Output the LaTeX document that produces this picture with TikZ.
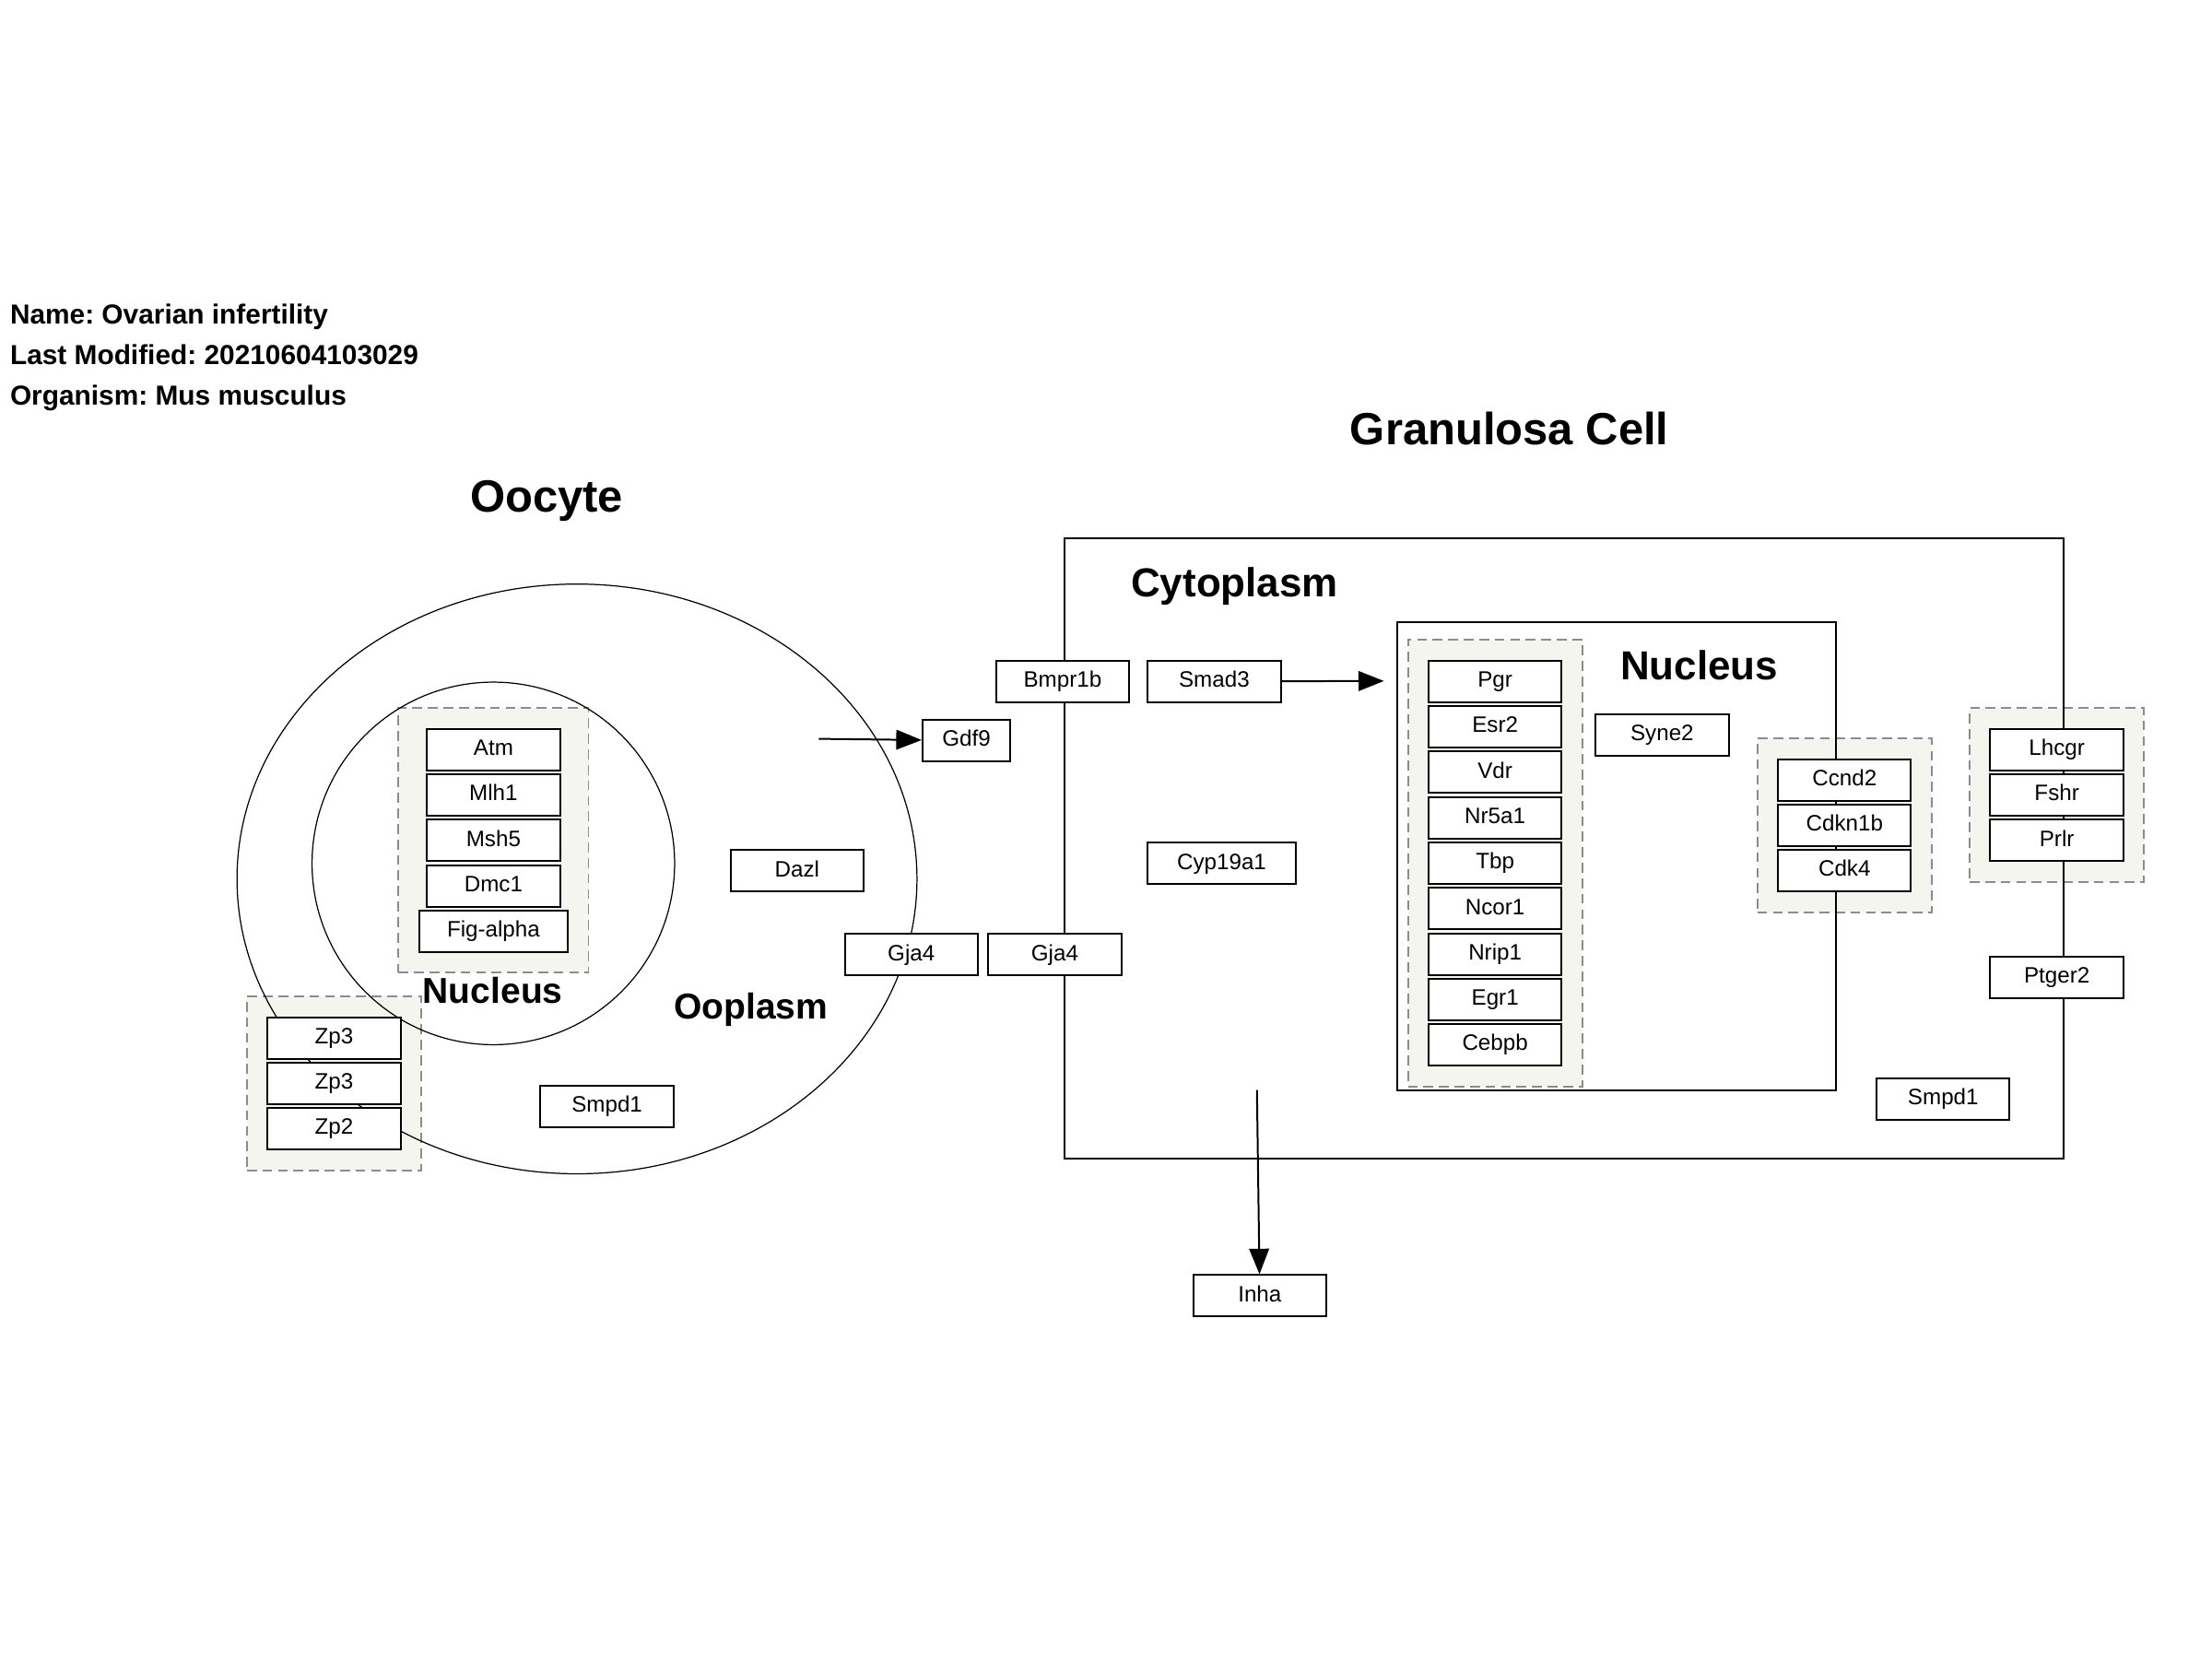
\documentclass[tikz,border=0pt]{standalone}
\usepackage{fontspec}
\setmainfont{Liberation Sans}
\usetikzlibrary{arrows.meta,positioning,fit,backgrounds}
\definecolor{groupgray}{HTML}{8C8C8C}
\definecolor{groupfill}{HTML}{F5F5EF}
\frenchspacing

\begin{document}
\begin{tikzpicture}[x=1pt, y=-1pt,
        gene/.style={draw, line width=1.3pt, fill=white, minimum width=94.3pt, minimum height=29.4pt,
            inner sep=0pt, text height=11.4pt, text depth=3.2pt, font=\fontsize{15.8}{18}\selectfont}, % one gene product
        complex/.style={draw=groupgray, dash pattern=on 7pt off 4pt, line width=1.3pt, fill=groupfill, inner sep=14pt}, % dashed group
        compartment/.style={draw, line width=1.3pt},
        membrane/.style={draw, line width=0.8pt},
        link/.style={-{Triangle[length=18pt,width=14pt]}, line width=1.3pt},
        infotext/.style={anchor=base west, inner sep=0pt, font=\bfseries\fontsize{19.5}{22}\selectfont},
        bigtitle/.style={anchor=base, inner sep=0pt, font=\bfseries\fontsize{32}{36}\selectfont},
        celltitle/.style={anchor=base west, inner sep=0pt, font=\bfseries\fontsize{28.7}{32}\selectfont},
    ]
    \useasboundingbox (0,0) rectangle (1568,1176);

    % info
    \node[infotext] (name) at (7,229.5) {Name: Ovarian infertility};
    \node[infotext] (modified) at (7,258.5) {Last Modified: 20210604103029};
    \node[infotext] (organism) at (7,287) {Organism: Mus musculus};

    % titles
    \node[bigtitle] (oocyte) at (387.5,363) {Oocyte};
    \node[bigtitle] (granulosa) at (1070,315) {Granulosa Cell};
    \node[celltitle] (cytoplasm) at (801.6,422.8) {Cytoplasm};
    \node[celltitle] (grnucleus) at (1148.5,482) {Nucleus};
    \node[celltitle, font=\bfseries\fontsize{25.5}{28}\selectfont] (ocnucleus) at (299.5,711.4) {Nucleus};
    \node[celltitle, font=\bfseries\fontsize{25.5}{28}\selectfont] (ooplasm) at (477.5,722.5) {Ooplasm};

    % oocyte
    \node[gene] (atm) at (349.8,531.3) {Atm};
    \node[gene, below=1.5pt of atm] (mlh1) {Mlh1};
    \node[gene, below=1.5pt of mlh1] (msh5) {Msh5};
    \node[gene, below=1.5pt of msh5] (dmc1) {Dmc1};
    \node[gene, below=1.5pt of dmc1, minimum width=105.4pt] (figa) {Fig-alpha};
    \node[gene] (zp3a) at (236.8,735.7) {Zp3};
    \node[gene, below=1.5pt of zp3a] (zp3b) {Zp3};
    \node[gene, below=1.5pt of zp3b] (zp2) {Zp2};
    \node[gene] (dazl) at (565,617.3) {Dazl};
    \node[gene] (smpdoc) at (430.3,784.2) {Smpd1};
    \node[gene] (gjaoc) at (646,676.8) {Gja4};
    \node[gene, minimum width=62.3pt] (gdf9) at (685.1,524.9) {Gdf9};

    % granulosa cell
    \node[gene] (bmpr) at (753.2,483) {Bmpr1b};
    \node[gene] (smad3) at (860.7,483) {Smad3};
    \node[gene, minimum width=105.3pt] (cyp) at (866,612) {Cyp19a1};
    \node[gene] (gjagr) at (747.7,676.8) {Gja4};
    \node[gene] (pgr) at (1059.8,483) {Pgr};
    \node[gene, below=1.5pt of pgr] (esr2) {Esr2};
    \node[gene, below=1.5pt of esr2] (vdr) {Vdr};
    \node[gene, below=1.5pt of vdr] (nr5a1) {Nr5a1};
    \node[gene, below=1.5pt of nr5a1] (tbp) {Tbp};
    \node[gene, below=1.5pt of tbp] (ncor1) {Ncor1};
    \node[gene, below=1.5pt of ncor1] (nrip1) {Nrip1};
    \node[gene, below=1.5pt of nrip1] (egr1) {Egr1};
    \node[gene, below=1.5pt of egr1] (cebpb) {Cebpb};
    \node[gene] (syne2) at (1178.2,520.9) {Syne2};
    \node[gene] (ccnd2) at (1307.5,552.8) {Ccnd2};
    \node[gene, below=1.5pt of ccnd2] (cdkn1b) {Cdkn1b};
    \node[gene, below=1.5pt of cdkn1b] (cdk4) {Cdk4};
    \node[gene] (lhcgr) at (1458,531.4) {Lhcgr};
    \node[gene, below=1.5pt of lhcgr] (fshr) {Fshr};
    \node[gene, below=1.5pt of fshr] (prlr) {Prlr};
    \node[gene] (ptger2) at (1458,692.6) {Ptger2};
    \node[gene] (smpdgr) at (1377.4,778.9) {Smpd1};
    \node[gene] (inha) at (893,918.5) {Inha};

    \begin{scope}[on background layer]
        \node[complex, fit=(atm)(figa)] (meiosis) {};
        \node[complex, fit=(zp3a)(zp2)] (zona) {};
        \node[complex, fit=(pgr)(cebpb)] (receptors) {};
        \node[complex, fit=(ccnd2)(cdk4)] (cycle) {};
        \node[complex, fit=(lhcgr)(prlr)] (hormone) {};
        % compartments
        \draw[membrane] (409,623) ellipse [x radius=241pt, y radius=209pt];
        \draw[membrane] (349.7,612) circle [radius=128.5pt];
        \draw[compartment] (754.3,381.7) rectangle (1462.8,821);
        \draw[compartment] (990.3,440.9) rectangle (1301.5,772.6);
    \end{scope}

    \coordinate (gdfin) at (580.4,523.7);
    \coordinate (smadout) at (981,482.7);
    \coordinate (inhain) at (891,772.7);
    \draw[link] (gdfin) -- (gdf9);
    \draw[link] (smad3) -- (smadout);
    \draw[link] (inhain) -- (inha);
\end{tikzpicture}
\end{document}
